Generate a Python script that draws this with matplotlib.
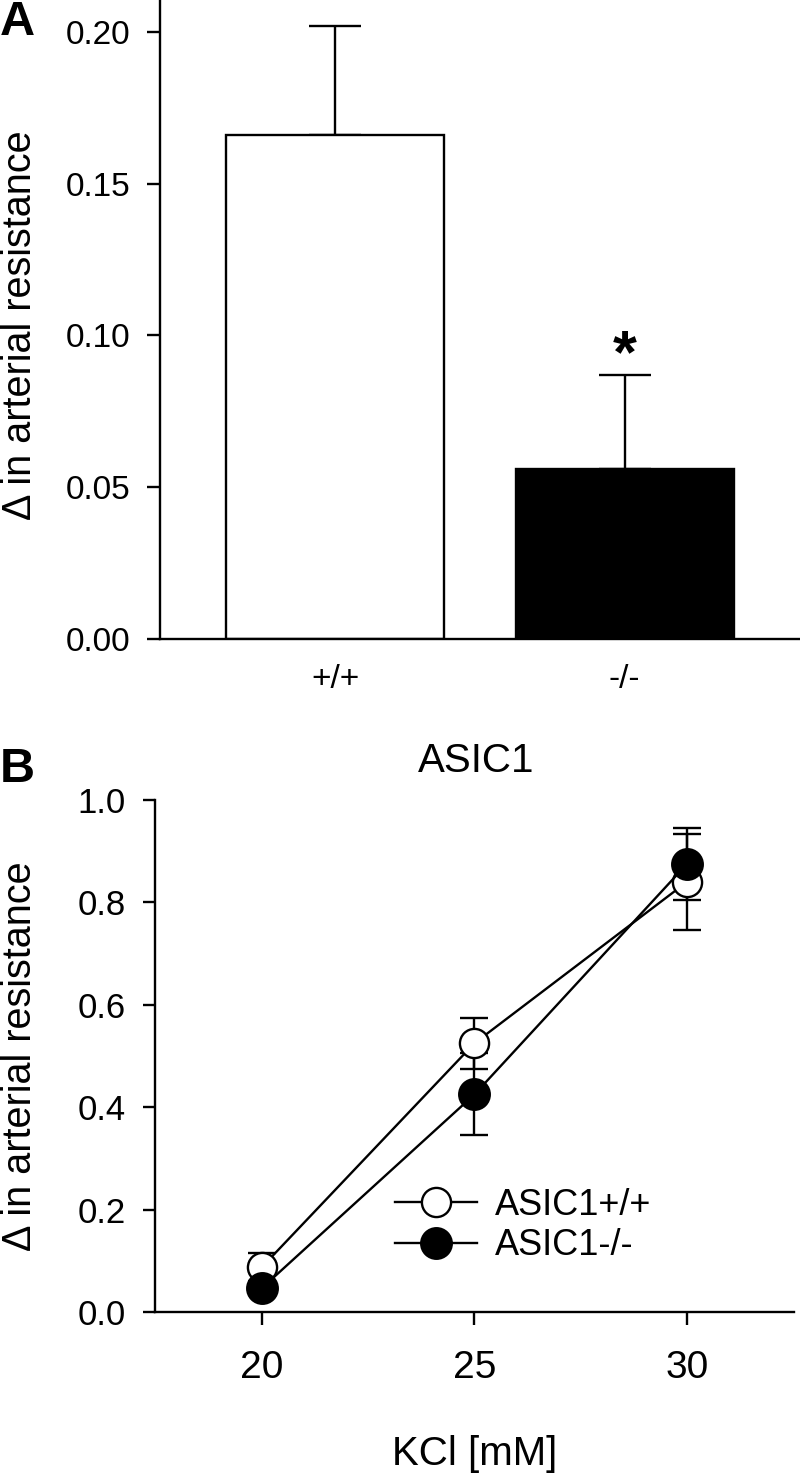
import matplotlib
matplotlib.use("Agg")
import matplotlib.pyplot as plt

plt.rcParams['font.family'] = ['Liberation Sans', 'DejaVu Sans']

# ---------------- data ----------------
genotypes = ['+/+', '-/-']
bar_means = [0.166, 0.056]
bar_errs = [0.036, 0.031]
bar_colors = ['white', 'black']

kcl = [20, 25, 30]
wt_mean = [0.088, 0.525, 0.840]
wt_err = [0.027, 0.050, 0.093]
ko_mean = [0.047, 0.425, 0.875]
ko_err = [0.012, 0.080, 0.070]
series_labels = ['ASIC1+/+', 'ASIC1-/-']

ylabel_text = 'Δ in arterial resistance'

W, H = 800, 1475
fig = plt.figure(figsize=(W / 100, H / 100), dpi=100)


def fx(x):
    return x / W


def fy(y):
    return 1 - y / H


LW = 1.7

# ---------------- panel A ----------------
axA = fig.add_axes([fx(160), fy(639), fx(800) - fx(160), fy(0) - fy(639)])
xpos = list(range(len(genotypes)))
axA.bar(xpos, bar_means, width=0.753, color=bar_colors, edgecolor='black',
        linewidth=LW, zorder=2)
axA.errorbar(xpos, bar_means, yerr=[[0] * len(bar_errs), bar_errs], fmt='none',
             ecolor='black', elinewidth=LW, capsize=19, capthick=LW, zorder=1)
axA.set_xlim(-0.6045, 1.606)
axA.set_ylim(0, 0.2105)
axA.set_yticks([0.00, 0.05, 0.10, 0.15, 0.20])
axA.set_yticklabels(['0.00', '0.05', '0.10', '0.15', '0.20'])
axA.set_xticks(xpos)
axA.set_xticklabels(genotypes)
axA.tick_params(axis='y', direction='out', length=9.5, width=LW, labelsize=24, pad=12)
axA.tick_params(axis='x', length=0, labelsize=24, pad=18)
for s in ['top', 'right']:
    axA.spines[s].set_visible(False)
for s in ['left', 'bottom']:
    axA.spines[s].set_linewidth(LW)
# significance star above the -/- bar
axA.text(1, bar_means[1] + bar_errs[1] + 0.001, '*', ha='center', va='baseline',
         fontsize=44, fontweight='bold')

fig.text(fx(20), fy(325), ylabel_text, rotation=90, ha='center', va='center', fontsize=28.5)
fig.text(0, fy(35), 'A', fontsize=35, fontweight='bold', ha='left', va='baseline')

# ---------------- panel B ----------------
axB = fig.add_axes([fx(155), fy(1312), fx(794) - fx(155), fy(800) - fy(1312)])
axB.errorbar(kcl, wt_mean, yerr=wt_err, fmt='none', ecolor='black',
             elinewidth=LW, capsize=10, capthick=LW, zorder=2)
axB.errorbar(kcl, ko_mean, yerr=ko_err, fmt='none', ecolor='black',
             elinewidth=LW, capsize=10, capthick=LW, zorder=2)
axB.plot(kcl, wt_mean, '-o', color='black', lw=LW, markersize=21,
         markerfacecolor='white', markeredgecolor='black', markeredgewidth=LW,
         label=series_labels[0], zorder=3)
axB.plot(kcl, ko_mean, '-o', color='black', lw=LW, markersize=22,
         markerfacecolor='black', markeredgecolor='black', markeredgewidth=LW,
         label=series_labels[1], zorder=4)
axB.set_xlim(17.48, 32.52)
axB.set_ylim(0, 1.0)
axB.set_xticks(kcl)
axB.set_yticks([0.0, 0.2, 0.4, 0.6, 0.8, 1.0])
axB.set_yticklabels(['0.0', '0.2', '0.4', '0.6', '0.8', '1.0'])
axB.tick_params(axis='y', direction='out', length=9, width=LW, labelsize=25, pad=12)
axB.tick_params(axis='x', direction='out', length=9.5, width=LW, labelsize=28, pad=18)
for s in ['top', 'right']:
    axB.spines[s].set_visible(False)
for s in ['left', 'bottom']:
    axB.spines[s].set_linewidth(LW)

leg = axB.legend(loc='upper left', bbox_to_anchor=(fx(395), fy(1188)),
                 bbox_transform=fig.transFigure, frameon=False, fontsize=26,
                 handlelength=2.27, handletextpad=0.5, labelspacing=0.15,
                 borderpad=0, borderaxespad=0, numpoints=1)

fig.text(fx(476), fy(772), 'ASIC1', ha='center', va='baseline', fontsize=29)
fig.text(fx(475), fy(1465), 'KCl [mM]', ha='center', va='baseline', fontsize=29)
fig.text(fx(20), fy(1056), ylabel_text, rotation=90, ha='center', va='center', fontsize=28.5)
fig.text(0, fy(782), 'B', fontsize=35, fontweight='bold', ha='left', va='baseline')

fig.savefig('out.png', dpi=100)
